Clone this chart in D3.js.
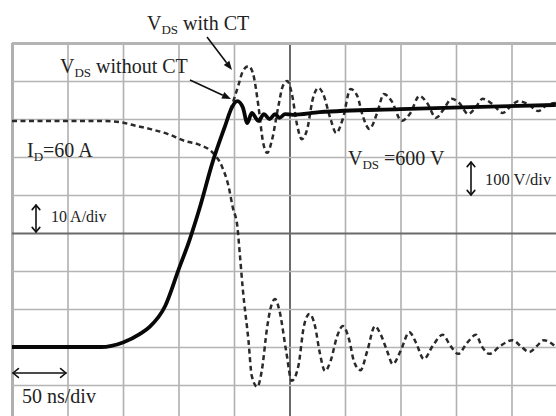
<!DOCTYPE html>
<html>
<head>
<meta charset="utf-8">
<script src="https://cdn.jsdelivr.net/npm/d3@7/dist/d3.min.js"></script>
<style>
  html, body { margin: 0; padding: 0; background: #fff; }
  svg { display: block; }
</style>
</head>
<body>
<svg id="chart" width="556" height="416"></svg>
<script>
// ---- Data (time in ns, 50 ns/div; V_DS in volts, 100 V/div; I_D in amps, 10 A/div) ----
const gridTimes = [0, 50, 100, 150, 200, 250, 300, 350, 400, 450, 500];
const gridVolts = [-200, -100, 0, 100, 200, 300, 400, 500, 600, 700, 800];

// V_DS without CT (solid)
const vdsNoCt = [
  [0, 0], [80, 0], [100, 12], [115, 34], [124, 53], [138, 108], [150, 203], [160, 282],
  [169, 365], [181, 489], [192, 582], [198, 630], [203, 647], [208, 630], [212, 589],
  [216, 616], [222, 595], [227, 613], [232, 600], [237, 613], [241, 603], [246, 613],
  [253, 611], [277, 618], [350, 626], [422, 632], [490, 637]
];

// V_DS with CT (dashed, upper)
const vdsWithCt = [
  [192, 582], [198, 634], [204, 689], [208, 726], [213, 739], [217, 721], [222, 634],
  [226, 542], [230, 511], [234, 542], [240, 634], [244, 687], [248, 700], [252, 668],
  [257, 582], [261, 547], [266, 574], [271, 653], [276, 682], [280, 668], [287, 600],
  [292, 563], [298, 600], [305, 679], [311, 661], [316, 608], [322, 574], [329, 616],
  [335, 666], [342, 647], [351, 595], [359, 616], [367, 661], [374, 642], [382, 603],
  [389, 626], [396, 653], [403, 642], [411, 613], [418, 632], [424, 653], [433, 639],
  [442, 616], [449, 632], [456, 647], [465, 639], [474, 621], [482, 637], [490, 642]
];

// I_D (dashed, lower)
const idCurrent = [
  [0, 59.5], [79, 59.5], [97, 59.2], [109, 58.4], [124, 57.4], [140, 56.1], [156, 54.2],
  [169, 53.2], [181, 51.1], [189, 47.6], [195, 42.4], [199, 36.6], [203, 31.8], [205, 25.3],
  [208, 15.0], [213, 1.8], [216, -7.6], [221, -10.5], [225, -6.3], [230, 5.5], [234, 11.3],
  [237, 12.6], [241, 9.5], [247, -1.1], [252, -8.9], [258, -5.0], [263, 5.5], [268, 8.7],
  [273, 5.5], [277, -1.1], [282, -6.3], [287, -3.7], [293, 2.9], [298, 5.5], [304, 1.6],
  [308, -3.7], [314, -6.1], [320, -1.1], [327, 5.5], [332, 3.4], [338, -1.1], [343, -4.5],
  [350, -1.1], [358, 3.9], [364, 1.1], [371, -3.2], [379, 0.3], [388, 3.2], [395, 0.3],
  [402, -1.8], [410, 1.1], [418, 3.2], [423, 0.3], [430, -1.8], [440, 0.3], [451, 1.8],
  [458, 0.3], [466, -1.3], [473, 0.3], [479, 1.8], [490, 0]
];

// ---- Layout ----
const FONT = "'Liberation Serif', Tinos, 'Times New Roman', Times, 'DejaVu Serif', serif";
const svg = d3.select("#chart");
const plotL = 12, plotR = 567, plotT = 43, plotB = 423;

const x = d3.scaleLinear().domain([0, 500]).range([plotL, plotR]);
const yV = d3.scaleLinear().domain([-200, 800]).range([plotB, plotT]);
const yI = d3.scaleLinear().domain([-20, 80]).range([plotB, plotT]);

// ---- Grid via axes ----
const gGridX = svg.append("g").attr("transform", `translate(0,${plotB})`)
  .call(d3.axisBottom(x).tickValues(gridTimes).tickSize(-(plotB - plotT)).tickFormat(""));
gGridX.select(".domain").remove();
gGridX.selectAll(".tick line")
  .attr("stroke", d => d === 250 ? "#6a6a6a" : "#b0b0b0")
  .attr("stroke-width", d => d === 0 ? 3 : (d === 250 ? 2 : 1.6));

const gGridY = svg.append("g").attr("transform", `translate(${plotL},0)`)
  .call(d3.axisLeft(yV).tickValues(gridVolts).tickSize(-(plotR - plotL)).tickFormat(""));
gGridY.select(".domain").remove();
gGridY.selectAll(".tick line")
  .attr("stroke", d => d === 300 ? "#6a6a6a" : "#b4b4b4")
  .attr("stroke-width", d => d === 800 ? 3 : (d === 300 ? 2 : 1.6));

// ---- Curves ----
const lineV = d3.line().x(d => x(d[0])).y(d => yV(d[1])).curve(d3.curveMonotoneX);
const lineI = d3.line().x(d => x(d[0])).y(d => yI(d[1])).curve(d3.curveMonotoneX);

svg.append("path").datum(idCurrent).attr("d", lineI)
  .attr("fill", "none").attr("stroke", "#2a2a2a").attr("stroke-width", 2.5)
  .attr("stroke-dasharray", "5,3.5");

svg.append("path").datum(vdsWithCt).attr("d", lineV)
  .attr("fill", "none").attr("stroke", "#2a2a2a").attr("stroke-width", 2.5)
  .attr("stroke-dasharray", "5,3.5");

svg.append("path").datum(vdsNoCt).attr("d", lineV)
  .attr("fill", "none").attr("stroke", "#080808").attr("stroke-width", 3.8)
  .attr("stroke-linejoin", "round");

// ---- Annotations ----
function subLabel(xp, yp, main, sub, rest, size) {
  const t = svg.append("text").attr("x", xp).attr("y", yp)
    .attr("font-family", FONT).attr("font-size", size).attr("fill", "#222");
  t.append("tspan").text(main);
  t.append("tspan").attr("dy", 4).attr("font-size", size * 0.65).text(sub);
  t.append("tspan").attr("dy", -4).text(rest);
}
subLabel(147, 30, "V", "DS", " with CT", 20);
subLabel(60, 73, "V", "DS", " without CT", 20);
subLabel(27, 157, "I", "D", "=60 A", 20);
subLabel(348, 165, "V", "DS", " =600 V", 20);

function plain(xp, yp, s, size) {
  svg.append("text").attr("x", xp).attr("y", yp).attr("font-family", FONT)
    .attr("font-size", size).attr("fill", "#222").text(s);
}
plain(51, 222, "10 A/div", 16);
plain(485, 185, "100 V/div", 16.5);
plain(22, 403, "50 ns/div", 20);

// pointer arrows
function pointer(x1, y1, x2, y2) {
  const ang = Math.atan2(y2 - y1, x2 - x1), L = 9, W = 3.5;
  const bx = x2 - L * Math.cos(ang), by = y2 - L * Math.sin(ang);
  svg.append("line").attr("x1", x1).attr("y1", y1).attr("x2", bx).attr("y2", by)
    .attr("stroke", "#111").attr("stroke-width", 1.6);
  const px = -Math.sin(ang) * W, py = Math.cos(ang) * W;
  svg.append("path")
    .attr("d", `M${x2},${y2}L${bx + px},${by + py}L${bx - px},${by - py}Z`)
    .attr("fill", "#111");
}
pointer(207, 37, 232, 70);
pointer(190, 80, 231, 99);

// double-headed scale arrows
function dbl(x1, y1, x2, y2, h) {
  const ang = Math.atan2(y2 - y1, x2 - x1);
  const g = svg.append("g").attr("stroke", "#111").attr("stroke-width", 1.6).attr("fill", "none")
    .attr("stroke-linecap", "round").attr("stroke-linejoin", "round");
  g.append("line").attr("x1", x1).attr("y1", y1).attr("x2", x2).attr("y2", y2);
  const head = (px, py, a) => {
    const a1 = a + Math.PI * 0.78, a2 = a - Math.PI * 0.78;
    g.append("path").attr("d",
      `M${px + h * Math.cos(a1)},${py + h * Math.sin(a1)}L${px},${py}L${px + h * Math.cos(a2)},${py + h * Math.sin(a2)}`);
  };
  head(x2, y2, ang);
  head(x1, y1, ang + Math.PI);
}
dbl(36, 205, 36, 232, 6);
dbl(471, 162, 471, 195, 6);
dbl(13, 373, 66, 373, 7);
</script>
</body>
</html>
